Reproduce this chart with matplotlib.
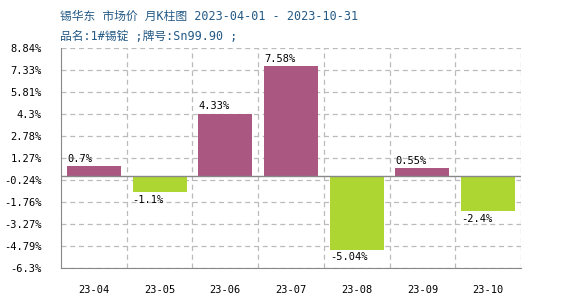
import matplotlib
matplotlib.use("Agg")
import matplotlib.pyplot as plt

months = ["23-04", "23-05", "23-06", "23-07", "23-08", "23-09", "23-10"]
values = [0.7, -1.1, 4.33, 7.58, -5.04, 0.55, -2.4]
labels = ["0.7%", "-1.1%", "4.33%", "7.58%", "-5.04%", "0.55%", "-2.4%"]
yticks = [8.84, 7.33, 5.81, 4.3, 2.78, 1.27, -0.24, -1.76, -3.27, -4.79, -6.3]
ytick_labels = ["8.84%", "7.33%", "5.81%", "4.3%", "2.78%", "1.27%", "-0.24%",
                "-1.76%", "-3.27%", "-4.79%", "-6.3%"]
title1 = "锡华东 市场价 月K柱图 2023-04-01 - 2023-10-31"
title2 = "品名:1#锡锭 ;牌号:Sn99.90 ;"

plt.rcParams['font.family'] = ['Noto Sans CJK SC', 'DejaVu Sans']
mono = ['DejaVu Sans Mono']
title_fam = ['DejaVu Sans Mono', 'Noto Sans CJK SC']

up_color = "#AA5882"
down_color = "#ADD633"
grid_color = "#BBBBBB"
axis_color = "#888888"

fig = plt.figure(figsize=(5.7, 3.0), dpi=100)
ax = fig.add_axes([61/570, 32/300, 460/570, 220/300])

x = list(range(len(months)))
colors = [up_color if v >= 0 else down_color for v in values]
ax.bar(x, values, width=0.82, color=colors, zorder=3)

ax.set_xlim(-0.5, len(months) - 0.5)
ax.set_ylim(-6.3, 8.84)
ax.set_yticks(yticks)
ax.set_yticklabels(ytick_labels, family=mono, fontsize=7.5)
ax.set_xticks(x)
ax.set_xticklabels(months, family=mono, fontsize=7.5)
ax.tick_params(axis='both', length=0)
ax.tick_params(axis='y', pad=14)
ax.tick_params(axis='x', pad=12)

# grid
for yt in yticks:
    ax.axhline(yt, color=grid_color, linestyle=(0, (4, 3)), linewidth=0.9, zorder=1)
for b in [i + 0.5 for i in range(len(months))]:
    ax.axvline(b, color=grid_color, linestyle=(0, (4, 3)), linewidth=0.9, zorder=1)
ax.axhline(0, color=axis_color, linewidth=1.0, zorder=4)

for s in ['top', 'right']:
    ax.spines[s].set_visible(False)
ax.spines['left'].set_color(axis_color)
ax.spines['bottom'].set_color(axis_color)

for xi, v, lab in zip(x, values, labels):
    if v >= 0:
        ax.text(xi - 0.41, v + 0.15, lab, ha='left', va='bottom', family=mono, fontsize=7.5, zorder=5)
    else:
        ax.text(xi - 0.41, v - 0.15, lab, ha='left', va='top', family=mono, fontsize=7.5, zorder=5)

fig.text(60/570, 1 - 16/300, title1, color="#245A86", fontsize=8.5, va='center', ha='left', family=title_fam)
fig.text(60/570, 1 - 36/300, title2, color="#245A86", fontsize=8.5, va='center', ha='left', family=title_fam)

fig.savefig("out.png", dpi=100)
